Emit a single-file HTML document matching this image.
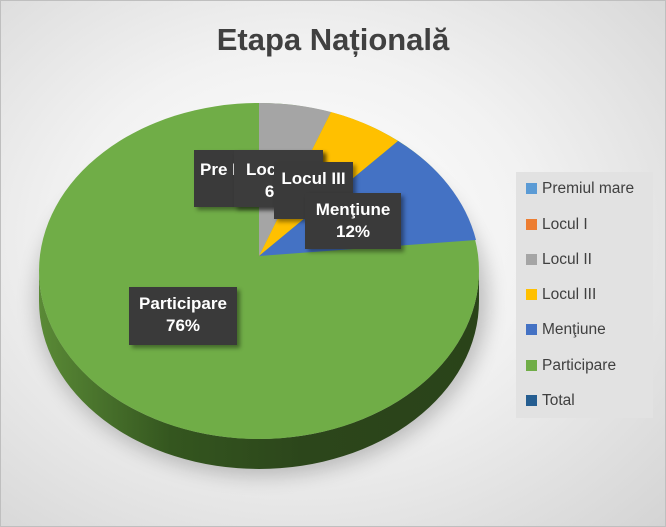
<!DOCTYPE html>
<html><head><style>
body{margin:0;width:666px;height:527px;overflow:hidden;font-family:"Liberation Sans",sans-serif}
.bg{position:absolute;left:0;top:0;width:664px;height:525px;border:1px solid #bfbfbf;background:radial-gradient(ellipse at 45% 45%,#ffffff 0%,#f2f2f2 45%,#d4d4d4 100%)}
.t{position:absolute;left:0;width:666px;top:22px;text-align:center;font-size:31px;font-weight:bold;color:#404040}
.lab{position:absolute;background:#3a3a3a;color:#fff;font-weight:bold;font-size:17px;text-align:center;line-height:22px;box-shadow:3px 3px 4px rgba(0,0,0,.4);overflow:hidden;white-space:nowrap}
.leg{position:absolute;left:516px;top:172px;width:137px;height:246px;background:#e2e2e2}
.li{position:absolute;left:10px;font-size:15.5px;color:#404040}
.li i{display:inline-block;width:11px;height:11px;margin-right:5px;vertical-align:-1px}
</style></head><body>
<div class="bg"></div>
<div class="t">Etapa Națională</div>
<svg width="666" height="527" style="position:absolute;left:0;top:0">
<defs>
<linearGradient id="sg" x1="0" x2="1"><stop offset="0" stop-color="#5a8a36"/><stop offset=".3" stop-color="#34561f"/><stop offset=".6" stop-color="#2c461b"/><stop offset="1" stop-color="#2a4319"/></linearGradient>
<filter id="bl"><feGaussianBlur stdDeviation="10"/></filter>
</defs>
<ellipse cx="262" cy="300" rx="226" ry="176" fill="#000" opacity=".22" filter="url(#bl)"/>
<path d="M39,271 A220,168 0 0 0 479,271 L479,301 A220,168 0 0 1 39,301 Z" fill="url(#sg)"/>
<ellipse cx="259" cy="271" rx="220" ry="168" fill="#70ad47"/>
<path d="M259,256 L259,103 A220,168 0 0 1 331,112 Z" fill="#a5a5a5"/>
<path d="M259,256 L331,112 A220,168 0 0 1 398,141 Z" fill="#ffc000"/>
<path d="M259,256 L398,141 A220,168 0 0 1 476,240 Z" fill="#4472c4"/>
</svg>
<div class="lab" style="left:194px;top:150px;width:129px;height:57px;text-align:left"><div style="padding:9px 0 0 6px">Pre L</div></div>
<div class="lab" style="left:234px;top:150px;width:89px;height:57px;text-align:left;background:#3c3c3c"><div style="padding:9px 0 0 12px">Locul II<br>&nbsp;&nbsp;&nbsp;&nbsp;6%</div></div>
<div class="lab" style="left:274px;top:162px;width:79px;height:57px"><div style="padding:6px 0 0 0">Locul III<br>&nbsp;&nbsp;6%</div></div>
<div class="lab" style="left:305px;top:193px;width:96px;height:56px"><div style="padding:6px 0 0 0">Menţiune<br>12%</div></div>
<div class="lab" style="left:129px;top:287px;width:108px;height:58px"><div style="padding:6px 0 0 0">Participare<br>76%</div></div>
<div class="leg">
<div class="li" style="top:8px"><i style="background:#5b9bd5"></i>Premiul mare</div>
<div class="li" style="top:44px"><i style="background:#ed7d31"></i>Locul I</div>
<div class="li" style="top:79px"><i style="background:#a5a5a5"></i>Locul II</div>
<div class="li" style="top:114px"><i style="background:#ffc000"></i>Locul III</div>
<div class="li" style="top:149px"><i style="background:#4472c4"></i>Menţiune</div>
<div class="li" style="top:185px"><i style="background:#70ad47"></i>Participare</div>
<div class="li" style="top:220px"><i style="background:#255e91"></i>Total</div>
</div>
</body></html>
